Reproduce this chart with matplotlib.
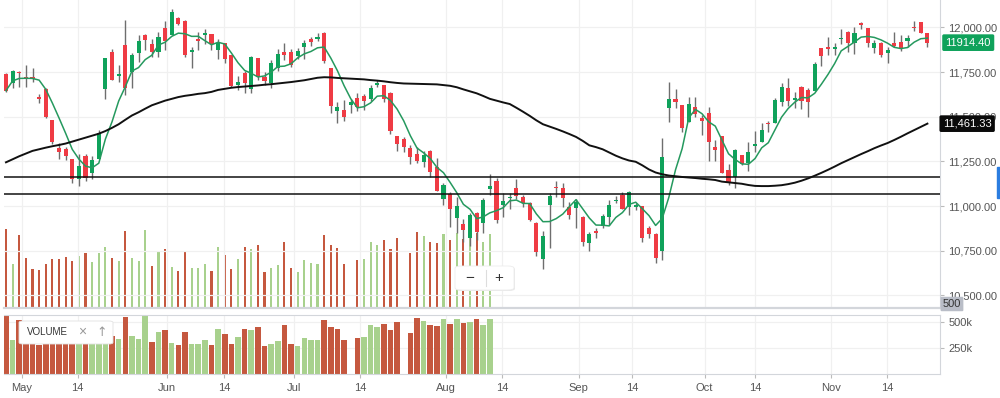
import numpy as np
import pandas as pd
import matplotlib
matplotlib.use("Agg")
import matplotlib.pyplot as plt
from matplotlib.patches import Rectangle, FancyBboxPatch

# daily candles, late Apr .. 22 Nov
opens = [11739, 11687, 11752, 11724, 11724, 11612, 11653, 11482, 11327, 11318,
         11262, 11152, 11281, 11184, 11266, 11653, 11864, 11728, 11901, 11752,
         11858, 11957, 11905, 11864, 11994, 11957, 12050, 12037, 11864, 11935,
         11957, 11961, 11873, 11910, 11845, 11678, 11746, 11653, 11827, 11724,
         11687, 11771, 11864, 11864, 11840, 11892, 11933, 11933, 11966, 11771,
         11534, 11538, 11566, 11603, 11618, 11597, 11675, 11677, 11631, 11392,
         11373, 11327, 11291, 11248, 11310, 11217, 11038, 11068, 10932, 10900,
         10820, 10960, 10904, 11094, 11142, 11006, 11043, 11099, 11053, 11019,
         10907, 10702, 11006, 11105, 11099, 10997, 10987, 10941, 10796, 10863,
         10889, 10941, 11028, 11062, 10997, 10997, 11001, 10876, 10844, 10751,
         11547, 11598, 11565, 11472, 11556, 11494, 11519, 11329, 11392, 11202,
         11165, 11286, 11240, 11338, 11361, 11467, 11467, 11584, 11659, 11594,
         11665, 11650, 11646, 11883, 11892, 11880, 11933, 11976, 11914, 12022,
         11994, 11883, 11914, 11858, 11910, 11916, 11926, 12004, 12028, 11966]
highs = [11745, 11762, 11758, 11790, 11771, 11627, 11659, 11484, 11355, 11333,
         11264, 11292, 11292, 11281, 11426, 11830, 11877, 11790, 12041, 11855,
         11957, 11961, 11933, 11972, 12037, 12103, 12056, 12039, 11892, 11972,
         11991, 11963, 11933, 11914, 11847, 11728, 11758, 11840, 11829, 11752,
         11817, 11877, 11911, 11877, 11883, 11929, 11948, 11966, 11976, 11773,
         11584, 11594, 11597, 11635, 11627, 11678, 11705, 11679, 11640, 11394,
         11388, 11342, 11332, 11310, 11312, 11267, 11131, 11081, 11053, 10926,
         10960, 10969, 11043, 11179, 11155, 11075, 11075, 11150, 11062, 11021,
         10913, 10863, 11075, 11142, 11131, 11025, 11038, 10943, 10857, 10876,
         10956, 11034, 11056, 11081, 11086, 11019, 11003, 10889, 10851, 11379,
         11696, 11653, 11567, 11608, 11608, 11509, 11552, 11370, 11394, 11235,
         11317, 11288, 11361, 11420, 11467, 11478, 11603, 11687, 11715, 11640,
         11672, 11659, 11808, 11885, 11944, 11910, 11989, 11978, 12004, 12032,
         11996, 11929, 11916, 11892, 11976, 11957, 11957, 12037, 12030, 11968]
lows = [11640, 11659, 11665, 11665, 11696, 11579, 11491, 11348, 11262, 11258,
        11132, 11115, 11143, 11150, 11266, 11597, 11706, 11696, 11622, 11659,
        11808, 11873, 11836, 11832, 11873, 11957, 12013, 11832, 11771, 11873,
        11905, 11873, 11821, 11799, 11665, 11650, 11631, 11635, 11706, 11678,
        11659, 11756, 11817, 11780, 11821, 11821, 11897, 11925, 11799, 11523,
        11467, 11478, 11523, 11534, 11538, 11590, 11664, 11584, 11403, 11310,
        11304, 11235, 11239, 11220, 11165, 11086, 11006, 10885, 10851, 10801,
        10777, 10810, 10848, 11062, 10904, 10941, 10982, 11038, 10997, 10918,
        10721, 10646, 10764, 11053, 10997, 10926, 10876, 10777, 10751, 10820,
        10876, 10894, 11015, 10982, 10950, 10978, 10801, 10820, 10680, 10699,
        11472, 11547, 11416, 11470, 11500, 11398, 11254, 11254, 11183, 11118,
        11099, 11230, 11199, 11305, 11359, 11417, 11465, 11560, 11560, 11547,
        11542, 11497, 11644, 11784, 11845, 11845, 11907, 11864, 11851, 11989,
        11892, 11859, 11832, 11802, 11892, 11870, 11892, 11981, 11966, 11888]
closes = [11646, 11755, 11742, 11718, 11710, 11599, 11497, 11357, 11303, 11280,
          11150, 11225, 11160, 11258, 11407, 11827, 11708, 11739, 11659, 11845,
          11924, 11930, 11862, 11945, 11922, 12088, 12021, 11845, 11872, 11924,
          11966, 11906, 11914, 11825, 11672, 11694, 11691, 11832, 11724, 11700,
          11798, 11850, 11843, 11790, 11866, 11910, 11916, 11946, 11811, 11558,
          11555, 11500, 11584, 11553, 11588, 11662, 11688, 11597, 11420, 11347,
          11333, 11272, 11253, 11285, 11190, 11086, 11120, 10982, 10998, 10864,
          10948, 10856, 11034, 11110, 10925, 11030, 11050, 11054, 11018, 10920,
          10742, 10830, 11058, 11100, 11048, 10950, 11025, 10799, 10846, 10850,
          10947, 11004, 11036, 10983, 11078, 11008, 10820, 10845, 10708, 11276,
          11600, 11585, 11437, 11571, 11514, 11476, 11360, 11316, 11185, 11127,
          11315, 11238, 11305, 11346, 11426, 11458, 11594, 11665, 11588, 11603,
          11588, 11584, 11793, 11840, 11877, 11892, 11942, 11914, 11966, 12013,
          11911, 11914, 11845, 11873, 11898, 11877, 11942, 11995, 11970, 11914.40]

# volume (thousands), only the first part of the range has data
volumes_k = [560, 320, 513, 359, 284, 279, 318, 352, 352, 363,
             336, 375, 393, 331, 393, 432, 359, 337, 545, 362,
             337, 551, 304, 401, 423, 298, 272, 401, 288, 288,
             320, 272, 433, 378, 282, 353, 433, 423, 449, 266,
             288, 311, 465, 288, 266, 346, 327, 320, 513, 449,
             426, 320, None, 346, 353, 465, 449, 481, 423, 497,
             None, 391, 538, 506, 465, 458, 522, 481, 529, 487,
             497, 529, 465, 522]

# slow moving average as drawn (black line)
ma_long = [11245, 11262, 11279, 11294, 11309, 11318, 11327, 11335, 11342, 11350,
           11361, 11372, 11383, 11394, 11405, 11420, 11438, 11458, 11483, 11507,
           11525, 11545, 11564, 11577, 11590, 11600, 11610, 11617, 11622, 11628,
           11632, 11639, 11650, 11656, 11662, 11666, 11669, 11672, 11675, 11679,
           11682, 11686, 11690, 11694, 11699, 11704, 11711, 11718, 11721, 11720,
           11717, 11715, 11713, 11711, 11709, 11705, 11702, 11698, 11693, 11689,
           11686, 11685, 11684, 11683, 11682, 11681, 11677, 11673, 11665, 11653,
           11642, 11631, 11616, 11600, 11590, 11580, 11571, 11550, 11528, 11505,
           11480, 11458, 11445, 11432, 11418, 11403, 11387, 11365, 11340, 11330,
           11318, 11300, 11282, 11267, 11255, 11248, 11228, 11205, 11188, 11178,
           11171, 11167, 11163, 11160, 11157, 11153, 11150, 11146, 11137, 11133,
           11129, 11125, 11118, 11113, 11112, 11112, 11114, 11117, 11123, 11131,
           11142, 11155, 11170, 11186, 11203, 11221, 11240, 11257, 11274, 11291,
           11307, 11324, 11339, 11353, 11370, 11388, 11407, 11425, 11443, 11461.33]

levels = [11163, 11066]

tick_pos = [2.4, 10.8, 24.3, 32.9, 43.4, 53.4, 66.4, 74.9, 86.4, 94.5, 105.4, 113.0, 124.4, 132.9]
tick_labels = ['May', '14', 'Jun', '14', 'Jul', '14', 'Aug', '14', 'Sep', '14', 'Oct', '14', 'Nov', '14']
price_ticks = [10500, 10750, 11000, 11250, 11500, 11750, 12000]
vol_ticks = [250, 500]

RED = '#ef3b44'
GREEN = '#0fa25b'
WICK = '#6e6e6e'
VRED = '#c5583f'
VGREEN = '#a8d18d'
GRID = '#f0f0f0'
EDGE = '#d3d6db'
TXT = '#555555'

plt.rcParams['font.family'] = ['Liberation Sans', 'DejaVu Sans']

W, H = 1000, 398


def px_rect(x0, y0, x1, y1):
    return [x0 / W, 1 - y1 / H, (x1 - x0) / W, (y1 - y0) / H]


fig = plt.figure(figsize=(W / 100, H / 100), dpi=100)
ax_ov = fig.add_axes(px_rect(4, 0, 940, 308))
ax = fig.add_axes(px_rect(4, 0, 940, 308), sharex=ax_ov)
ax_v = fig.add_axes(px_rect(4, 315, 940, 373.7), sharex=ax_ov)

n = len(closes)
x = np.arange(n)
o = np.array(opens, float)
c = np.array(closes, float)
hi = np.array(highs, float)
lo = np.array(lows, float)

# volume colour follows close vs previous close
vol = np.array([np.nan if v is None else v for v in volumes_k], float)
xv = np.arange(len(vol))
prev = np.concatenate([[np.inf], c[:-1]])
vcol = [VGREEN if c[i] >= prev[i] else VRED for i in range(len(vol))]
ok = ~np.isnan(vol)

# volume overlay in price panel
ax_ov.bar(xv[ok], vol[ok], width=0.32, color=np.array(vcol)[ok], linewidth=0)
ax_ov.set_ylim(17.7, 2119)
ax_ov.axis('off')

# price panel
ax.patch.set_visible(False)
for p in price_ticks:
    ax.axhline(p, color=GRID, lw=0.9, zorder=0)
for t in tick_pos:
    ax.axvline(t, color=GRID, lw=0.9, zorder=0)

up = c >= o
ccol = np.where(up, GREEN, RED)
ax.vlines(x, lo, hi, color=WICK, lw=1.0, zorder=2)
body = np.maximum(np.abs(c - o), 6)
ax.bar(x, body, bottom=np.minimum(o, c), width=0.62, color=ccol, linewidth=0, zorder=3)

sma5 = pd.Series(c).rolling(5, min_periods=1).mean()
ax.plot(x, sma5, color='#25995e', lw=1.1, zorder=4)
ax.plot(x, ma_long, color='#111111', lw=1.4, zorder=4)
for lv in levels:
    ax.axhline(lv, color='#111111', lw=1.1, zorder=4)

ax.set_xlim(-0.3, 140.9)
ax.set_ylim(10430, 12153)
ax.yaxis.tick_right()
ax.set_yticks(price_ticks)
ax.set_yticklabels([f'{p:,.2f}' for p in price_ticks])
ax.tick_params(axis='y', direction='out', length=3, color='#bbbbbb', labelcolor=TXT,
               labelsize=8, pad=3)
ax.set_xticks(tick_pos)
ax.tick_params(axis='x', length=0, labelbottom=False)
for s in ['top', 'left']:
    ax.spines[s].set_visible(False)
ax.spines['right'].set_color(EDGE)
ax.spines['bottom'].set_color(EDGE)
ax.spines['bottom'].set_linewidth(1.6)

# volume panel
for t in tick_pos:
    ax_v.axvline(t, color=GRID, lw=0.9, zorder=0)
for vt in vol_ticks:
    ax_v.axhline(vt, color=GRID, lw=0.9, zorder=0)
ax_v.bar(xv[ok], vol[ok], width=0.84, color=np.array(vcol)[ok], linewidth=0, zorder=2)
ax_v.set_ylim(0, 564)
ax_v.yaxis.tick_right()
ax_v.set_yticks(vol_ticks)
ax_v.set_yticklabels([f'{v}k' for v in vol_ticks])
ax_v.set_xticks(tick_pos)
ax_v.set_xticklabels(tick_labels)
ax_v.tick_params(axis='both', direction='out', length=3, color='#bbbbbb', labelcolor=TXT,
                 labelsize=8, pad=3)
ax_v.tick_params(axis='x', pad=4)
ax_v.spines['left'].set_visible(False)
for s in ['top', 'right', 'bottom']:
    ax_v.spines[s].set_color(EDGE)

# value tags on the price scale
ax.annotate(f'{closes[-1]:.2f}', xy=(1.0, closes[-1]), xycoords=('axes fraction', 'data'),
            xytext=(4, 0), textcoords='offset points', ha='left', va='center',
            color='white', fontsize=8,
            bbox=dict(boxstyle='round,pad=0.3,rounding_size=0.15', fc=GREEN, ec='none'), zorder=10,
            annotation_clip=False)
ax.annotate(f'{ma_long[-1]:,.2f}', xy=(1.0, ma_long[-1]), xycoords=('axes fraction', 'data'),
            xytext=(2, 0), textcoords='offset points', ha='left', va='center',
            color='white', fontsize=8,
            bbox=dict(boxstyle='round,pad=0.3,rounding_size=0.15', fc='#0a0a0a', ec='none'), zorder=10,
            annotation_clip=False)
ax.annotate('500', xy=(1.0, 0.013), xycoords='axes fraction',
            xytext=(2, 0), textcoords='offset points', ha='left', va='center',
            color='#333333', fontsize=8,
            bbox=dict(boxstyle='round,pad=0.2,rounding_size=0.1', fc='#b9bdc7', ec='none'), zorder=10,
            annotation_clip=False)

# blue handle at the right edge
fig.patches.append(Rectangle((997 / W, 1 - 198 / H), 3 / W, 31 / H, transform=fig.transFigure,
                             color='#2b7de0', zorder=5))

# zoom buttons
fig.patches.append(FancyBboxPatch((456 / W, 1 - 291 / H), 59 / W, 24 / H,
                                  boxstyle='round,pad=0,rounding_size=0.006',
                                  transform=fig.transFigure, fc='#e9e9e9', ec='none', zorder=5))
fig.patches.append(FancyBboxPatch((455 / W, 1 - 290 / H), 59 / W, 24 / H,
                                  boxstyle='round,pad=0,rounding_size=0.006',
                                  transform=fig.transFigure, fc='white', ec='#ececec', lw=0.6, zorder=6))
fig.lines.append(plt.Line2D([486 / W, 486 / W], [1 - 286 / H, 1 - 270 / H], transform=fig.transFigure,
                            color='#dddddd', lw=0.8, zorder=7))
fig.text(470 / W, 1 - 278 / H, '\u2212', ha='center', va='center', fontsize=11, color='#333333', zorder=8)
fig.text(499 / W, 1 - 278 / H, '+', ha='center', va='center', fontsize=11, color='#333333', zorder=8)

# volume legend
fig.patches.append(FancyBboxPatch((19 / W, 1 - 344 / H), 94 / W, 23 / H,
                                  boxstyle='round,pad=0,rounding_size=0.004',
                                  transform=fig.transFigure, fc='white', ec='#e2e2e2', lw=0.6, zorder=6))
fig.text(27 / W, 1 - 332 / H, 'VOLUME', ha='left', va='center', fontsize=7, color='#333333', zorder=8)
fig.text(82 / W, 1 - 332 / H, '\u00d7', ha='center', va='center', fontsize=10, color='#999999', zorder=8)
fig.text(102 / W, 1 - 332 / H, '\u2191', ha='center', va='center', fontsize=9, color='#999999',
         family=['DejaVu Sans'], zorder=8)

fig.savefig('out.png', dpi=100)
